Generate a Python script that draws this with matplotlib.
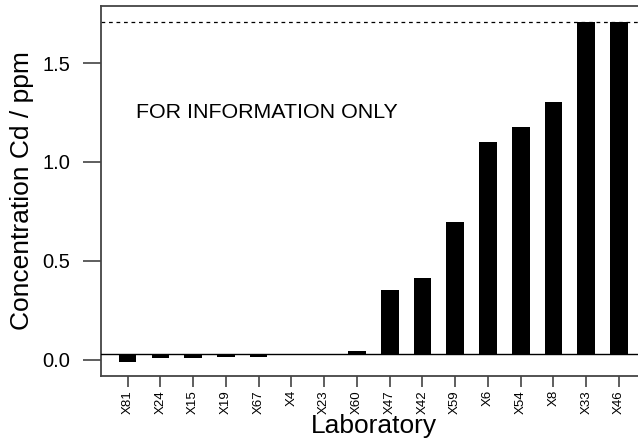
import matplotlib
matplotlib.use("Agg")
import matplotlib.pyplot as plt
import numpy as np

plt.rcParams['font.family'] = ['Liberation Sans', 'DejaVu Sans']

labs = ["X81", "X24", "X15", "X19", "X67", "X4", "X23", "X60",
        "X47", "X42", "X59", "X6", "X54", "X8", "X33", "X46"]
values = [-0.01, 0.009, 0.012, 0.015, 0.017, 0.028, 0.028, 0.044,
          0.354, 0.414, 0.697, 1.10, 1.177, 1.303, 1.707, 1.707]
ref_value = 0.028
upper_limit = 1.707
yticks = [0.0, 0.5, 1.0, 1.5]
yticklabels = ["0.0", "0.5", "1.0", "1.5"]

fig = plt.figure(figsize=(6.38, 4.41), dpi=100)
ax = fig.add_axes([101/638, 1-376/441, 1-101/638, (376-6)/441])

x = np.arange(len(labs))
vals = np.array(values)
ax.bar(x, vals - ref_value, bottom=ref_value, width=0.54, color='black', zorder=2)
ax.axhline(ref_value, color='black', lw=1.0, zorder=3)
ax.axhline(upper_limit, color='black', lw=0.9, ls=(0, (3, 3)), zorder=1)

ax.set_xlim(-0.812, 15.58)
ax.set_ylim(-0.081, 1.788)
ax.set_xticks(x)
ax.set_xticklabels(labs, rotation=90, fontsize=9.5)
ax.set_yticks(yticks)
ax.set_yticklabels(yticklabels, fontsize=14.5)
ax.tick_params(axis='x', length=8, width=1.1, color='#333333', direction='out', pad=2)
ax.tick_params(axis='y', length=13, width=1.1, color='#333333', direction='out', pad=9)
for s in ['left', 'top', 'bottom']:
    ax.spines[s].set_linewidth(1.3)
    ax.spines[s].set_color('#444444')
ax.spines['right'].set_visible(False)

ax.set_ylabel("Concentration Cd / ppm", fontsize=19)
ax.set_xlabel("Laboratory", fontsize=19)
ax.yaxis.set_label_coords(-0.125, 0.5)
ax.xaxis.set_label_coords(0.508, -0.102)
ax.text(0.25, 1.25, "FOR INFORMATION ONLY", fontsize=15.4, ha='left', va='center')

fig.savefig("out.png", dpi=100)
